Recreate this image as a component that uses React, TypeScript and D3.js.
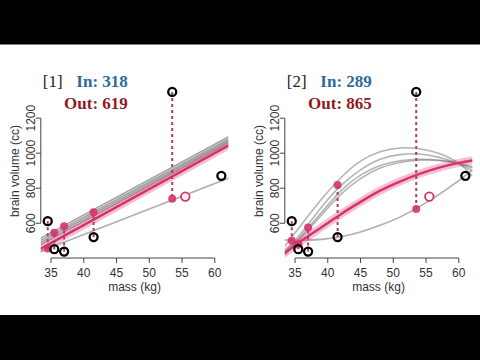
import * as d3 from "d3";

// hominin data: mass (kg), brain volume (cc)
const massKg = [37.0, 35.5, 34.5, 41.5, 55.5, 61.0, 53.5];
const brainCc = [438, 452, 612, 521, 752, 871, 1350];
const heldOut = 4; // drawn as open pink circle

const xTicks = [35, 40, 45, 50, 55, 60];
const yTicks = [600, 800, 1000, 1200];
const xLim = [33.44, 62.06];
const yLim = [401.5, 1386.5];

// panel 1 (linear): line end values at xLim
const p1Gray = [
  [515, 1092],
  [502, 1080],
  [490, 1070],
  [478, 1058],
];
const p1Light = [440, 857];
const p1Full = [455, 1043];
const p1PredMass = [34.5, 35.5, 37, 41.5, 53.5];
const p1PredCc = [456, 545, 583, 663, 740];

// panel 2 (quadratic): curves read at these masses
const curveMass = [33.44, 36, 39, 42, 45, 48, 51, 54, 57, 60, 62.06];
const p2Gray = [
  [470, 593, 735, 860, 955, 1008, 1030, 1025, 998, 942, 872],
  [440, 545, 690, 815, 905, 965, 992, 995, 976, 938, 900],
  [430, 530, 660, 785, 875, 930, 957, 965, 960, 943, 922],
  [420, 520, 645, 765, 855, 915, 947, 960, 958, 940, 915],
];
const p2Light = [505, 503, 508, 523, 550, 588, 635, 695, 765, 843, 903];
const p2Full = [430, 500, 576, 652, 722, 786, 838, 882, 918, 945, 958];
const p2PredMass = [34.5, 35.5, 37, 41.5, 53.5];
const p2PredCc = [500, 480, 576, 818, 681];

const PINK = "#d6336c";
const DASH = "#b23a6c";

type Pt = [number, number];

interface PanelProps {
  id: string;
  left: number;
  tag: string;
  inText: string;
  outText: string;
  gray: Pt[][];
  light: Pt[];
  full: Pt[];
  predMass: number[];
  predCc: number[];
  grayColor: string;
  grayWidth: number;
}

const Panel = (p: PanelProps) => {
  const x = d3.scaleLinear().domain(xLim).range([p.left, p.left + 187.5]);
  const y = d3.scaleLinear().domain(yLim).range([258, 85.5]);
  const line = d3
    .line<Pt>()
    .x((d) => x(d[0]))
    .y((d) => y(d[1]))
    .curve(d3.curveNatural);
  const font = "'Liberation Sans', Arial, sans-serif";
  const serif = "'Liberation Serif', 'Times New Roman', serif";
  const titleRight = p.left + 87;

  return (
    <g>
      <defs>
        <clipPath id={p.id}>
          <rect x={x(xLim[0])} y={y(yLim[1])} width={x(xLim[1]) - x(xLim[0])} height={y(yLim[0]) - y(yLim[1])} />
        </clipPath>
      </defs>

      {/* title */}
      <text x={p.left + 2} y={86.5} fontFamily={serif} fontSize={17} fill="#222">
        {p.tag}
      </text>
      <text x={titleRight} y={87} textAnchor="end" fontFamily={serif} fontSize={17} fontWeight="bold" fill="#2b6b99">
        {p.inText}
      </text>
      <text x={titleRight} y={108.5} textAnchor="end" fontFamily={serif} fontSize={17} fontWeight="bold" fill="#8e1b1f">
        {p.outText}
      </text>

      {/* axes */}
      <g stroke="#444" strokeWidth={1} fill="none">
        <line x1={x(xTicks[0])} x2={x(xTicks[xTicks.length - 1])} y1={258} y2={258} />
        {xTicks.map((t) => (
          <line key={t} x1={x(t)} x2={x(t)} y1={258} y2={263} />
        ))}
        <line x1={x(xLim[0])} x2={x(xLim[0])} y1={y(yTicks[0])} y2={y(yTicks[yTicks.length - 1])} />
        {yTicks.map((t) => (
          <line key={t} x1={x(xLim[0]) - 5} x2={x(xLim[0])} y1={y(t)} y2={y(t)} />
        ))}
      </g>
      <g fontFamily={font} fontSize={12} fill="#333">
        {xTicks.map((t) => (
          <text key={t} x={x(t)} y={277} textAnchor="middle">
            {t}
          </text>
        ))}
        <text x={(x(xLim[0]) + x(xLim[1])) / 2} y={291} textAnchor="middle">
          mass (kg)
        </text>
        {yTicks.map((t) => (
          <text key={t} transform={`translate(${x(xLim[0]) - 6},${y(t)}) rotate(-90)`} textAnchor="middle">
            {t}
          </text>
        ))}
        <text transform={`translate(${x(xLim[0]) - 21.5},${171}) rotate(-90)`} textAnchor="middle">
          brain volume (cc)
        </text>
      </g>

      {/* fits */}
      <g clipPath={`url(#${p.id})`} fill="none" strokeLinecap="round">
        {p.gray.map((g, i) => (
          <path key={i} d={line(g) || ""} stroke={p.grayColor} strokeOpacity={0.55} strokeWidth={p.grayWidth} />
        ))}
        <path d={line(p.light) || ""} stroke="#9a9a9a" strokeOpacity={0.8} strokeWidth={1.6} />
        <path d={line(p.full) || ""} stroke={PINK} strokeOpacity={0.3} strokeWidth={8} />
        <path d={line(p.full) || ""} stroke={PINK} strokeWidth={2.4} />
      </g>

      {/* residual segments */}
      {p.predMass.map((m, i) => {
        const j = massKg.indexOf(m);
        return (
          <line
            key={i}
            x1={x(m)}
            x2={x(m)}
            y1={y(brainCc[j])}
            y2={y(p.predCc[i])}
            stroke={DASH}
            strokeWidth={2}
            strokeDasharray="3,3"
          />
        );
      })}

      {/* predictions */}
      {p.predMass.map((m, i) => (
        <circle key={i} cx={x(m)} cy={y(p.predCc[i])} r={4} fill={PINK} fillOpacity={0.9} />
      ))}

      {/* observed */}
      {massKg.map((m, i) =>
        i === heldOut ? (
          <circle key={i} cx={x(m)} cy={y(brainCc[i])} r={4.3} fill="white" stroke={PINK} strokeWidth={1.8} />
        ) : (
          <circle key={i} cx={x(m)} cy={y(brainCc[i])} r={4} fill="none" stroke="black" strokeWidth={2.3} />
        )
      )}
    </g>
  );
};

const toPts = (vals: number[]): Pt[] => [
  [xLim[0], vals[0]],
  [xLim[1], vals[1]],
];
const toCurve = (vals: number[]): Pt[] => curveMass.map((m, i) => [m, vals[i]] as Pt);

export default function App() {
  return (
    <div style={{ position: "absolute", left: 0, top: 0, width: 480, height: 360 }}>
      <svg width={480} height={360} style={{ display: "block" }}>
        <rect width={480} height={360} fill="white" />
        <rect width={480} height={44.5} fill="black" />
        <rect y={315} width={480} height={45} fill="black" />
        <Panel
          id="clip1"
          left={40.8}
          tag="[1]"
          inText="In: 318"
          outText="Out: 619"
          gray={p1Gray.map(toPts)}
          light={toPts(p1Light)}
          full={toPts(p1Full)}
          predMass={p1PredMass}
          predCc={p1PredCc}
          grayColor="#555"
          grayWidth={1.6}
        />
        <Panel
          id="clip2"
          left={284.8}
          tag="[2]"
          inText="In: 289"
          outText="Out: 865"
          gray={p2Gray.map(toCurve)}
          light={toCurve(p2Light)}
          full={toCurve(p2Full)}
          predMass={p2PredMass}
          predCc={p2PredCc}
          grayColor="#777"
          grayWidth={1.6}
        />
      </svg>
    </div>
  );
}
